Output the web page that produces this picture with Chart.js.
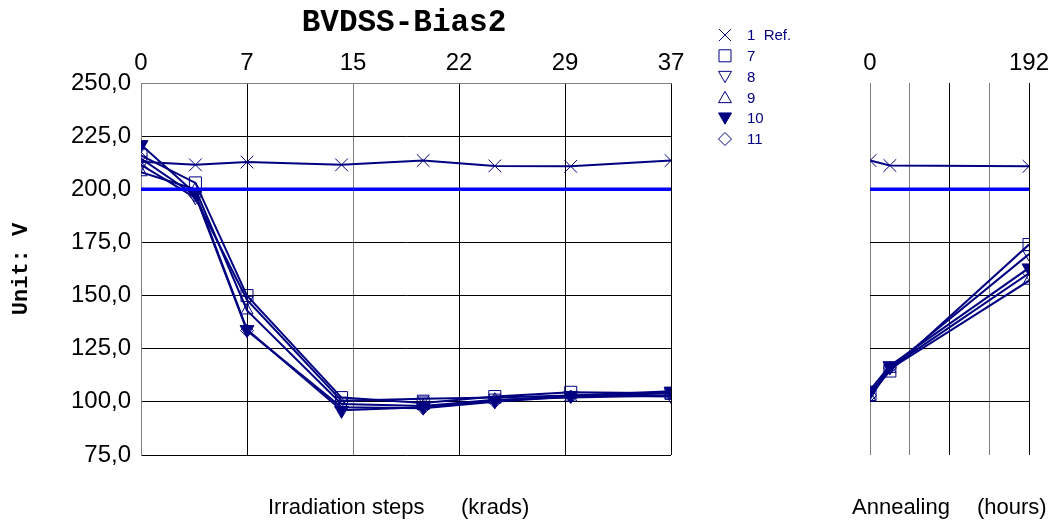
<!DOCTYPE html>
<html><head><meta charset="utf-8">
<script src="https://cdn.jsdelivr.net/npm/chart.js@4/dist/chart.umd.min.js"></script>
<style>
html,body{margin:0;padding:0;background:#fff;}
#wrap{position:relative;width:1061px;height:523px;overflow:hidden;}
canvas{position:absolute;left:0;top:0;}
</style></head><body>
<div id="wrap"><canvas id="c1" width="1061" height="523"></canvas><canvas id="c2" width="1061" height="523"></canvas></div>
<script>
// ---- data ----
const chartTitle = 'BVDSS-Bias2';
const yTitle = 'Unit: V';
const irrTitle = ['Irradiation steps', '(krads)'];
const annTitle = ['Annealing', '(hours)'];
const seriesNames = ['1  Ref.', '7', '8', '9', '10', '11'];

const irrSteps = [0, 3.8, 7.4, 14.0, 19.7, 24.7, 30.0, 37];
const irrTickLabels = ['0', '7', '15', '22', '29', '37'];
const irrMax = 37;
const annSteps = [0, 24, 192];
const annTickLabels = ['0', '', '', '', '192'];
const annMax = 192;

const irrRef = [213, 211.5, 212.8, 211.5, 213.5, 211, 210.8, 213.5];
const irr7   = [216, 203, 150, 102, 99.5, 102.5, 104.5, 104];
const irr8   = [211.5, 196, 148, 100.5, 101.5, 102, 103, 102.5];
const irr9   = [208, 200, 143, 99, 98, 101, 102, 103];
const irr10  = [221, 198, 134, 96, 97.5, 100.5, 103, 105];
const irr11  = [214.5, 197, 133.5, 97.5, 97, 100, 102.5, 104];

const annRef = [213.5, 211.2, 210.8];
const ann7   = [103.5, 114.5, 174];
const ann8   = [104, 116, 169.5];
const ann9   = [102, 115.5, 157];
const ann10  = [105.5, 117, 163];
const ann11  = [103, 116, 160.5];

const limitValue = 200;
const yMin = 75, yMax = 250, yStep = 25;

// ---- styles ----
const NAVY = '#000080';
const BLUE = '#0000ff';
const GRAY = '#808080';
const markers = [
  {style: 'crossRot', rot: 0, r: 9, fill: false},
  {style: 'rect', rot: 0, r: 8.5, fill: false},
  {style: 'triangle', rot: 180, r: 7, fill: false},
  {style: 'triangle', rot: 0, r: 7, fill: false},
  {style: 'triangle', rot: 180, r: 8, fill: true},
  {style: 'rectRot', rot: 0, r: 6.5, fill: false}
];
const SANS = '"Liberation Sans", Arial, sans-serif';
const MONO = '"Liberation Mono", "Courier New", monospace';

function makeDatasets(xs, seriesList, xMax) {
  const ds = seriesList.map((vals, i) => ({
    label: seriesNames[i],
    data: xs.map((x, j) => ({x: x, y: vals[j]})),
    showLine: true,
    borderColor: NAVY,
    borderWidth: 2,
    pointStyle: markers[i].style,
    rotation: markers[i].rot,
    pointRadius: markers[i].r,
    pointBorderWidth: 1,
    pointBorderColor: NAVY,
    pointBackgroundColor: markers[i].fill ? NAVY : 'rgba(0,0,0,0)',
    order: 1
  }));
  ds.push({
    label: 'limit',
    data: [{x: 0, y: limitValue}, {x: xMax, y: limitValue}],
    showLine: true,
    borderColor: BLUE,
    borderWidth: 3.5,
    pointRadius: 0,
    order: 0
  });
  return ds;
}

function drawMarker(ctx, m, x, y, r) {
  ctx.beginPath();
  if (m.style === 'crossRot') {
    const o = r * Math.SQRT1_2;
    ctx.moveTo(x - o, y - o); ctx.lineTo(x + o, y + o);
    ctx.moveTo(x + o, y - o); ctx.lineTo(x - o, y + o);
    ctx.stroke();
    return;
  }
  if (m.style === 'rect') {
    const s = r * Math.SQRT1_2;
    ctx.rect(x - s, y - s, 2 * s, 2 * s);
  } else if (m.style === 'rectRot') {
    ctx.moveTo(x - r, y); ctx.lineTo(x, y - r); ctx.lineTo(x + r, y); ctx.lineTo(x, y + r); ctx.closePath();
  } else if (m.style === 'triangle') {
    let a = m.rot * Math.PI / 180;
    ctx.moveTo(x + Math.sin(a) * r, y - Math.cos(a) * r);
    a += 2 * Math.PI / 3;
    ctx.lineTo(x + Math.sin(a) * r, y - Math.cos(a) * r);
    a += 2 * Math.PI / 3;
    ctx.lineTo(x + Math.sin(a) * r, y - Math.cos(a) * r);
    ctx.closePath();
  }
  if (m.fill) ctx.fill();
  ctx.stroke();
}

const textPlugin = {
  id: 'texts',
  afterDraw(chart) {
    const ctx = chart.ctx;
    ctx.save();
    ctx.fillStyle = '#000';
    ctx.textAlign = 'center';
    ctx.textBaseline = 'middle';
    ctx.font = 'bold 31px ' + MONO;
    ctx.fillText(chartTitle, 404, 23);
    ctx.save();
    ctx.translate(21, 269);
    ctx.rotate(-Math.PI / 2);
    ctx.font = 'bold 22px ' + MONO;
    ctx.fillText(yTitle, 0, 0);
    ctx.restore();
    ctx.font = '22px ' + SANS;
    ctx.textAlign = 'left';
    ctx.fillText(irrTitle[0], 268, 508);
    ctx.fillText(irrTitle[1], 461, 508);
    ctx.fillText(annTitle[0], 852, 508);
    ctx.fillText(annTitle[1], 977, 508);
    // legend
    ctx.font = '15px ' + SANS;
    ctx.strokeStyle = NAVY;
    ctx.fillStyle = NAVY;
    ctx.lineWidth = 1;
    seriesNames.forEach((n, i) => {
      const y = 35 + i * 20.8;
      const m = markers[i];
      const r = m.style === 'crossRot' ? 8.5 : (m.style === 'rect' ? 8.5 : (m.style === 'rectRot' ? 6.5 : 7.5));
      drawMarker(ctx, m, 725, m.style === 'triangle' ? y + (m.rot ? -1.5 : 1.5) : y, r);
      ctx.fillText(n, 747, y + 1);
    });
    ctx.restore();
  }
};

const commonOpts = {
  responsive: false,
  animation: false,
  events: [],
  devicePixelRatio: 1,
  plugins: {legend: {display: false}, tooltip: {enabled: false}, title: {display: false}}
};

// ---- left chart ----
new Chart(document.getElementById('c1'), {
  type: 'scatter',
  data: {datasets: makeDatasets(irrSteps, [irrRef, irr7, irr8, irr9, irr10, irr11], irrMax)},
  options: Object.assign({}, commonOpts, {
    layout: {padding: {left: 0, right: 1061 - 671, top: 0, bottom: 523 - 455}},
    scales: {
      x: {
        type: 'linear', position: 'top', min: 0, max: irrMax,
        afterBuildTicks: s => { s.ticks = irrTickLabels.map((_, i) => ({value: i * irrMax / (irrTickLabels.length - 1)})); },
        afterFit: s => { s.height = 83; },
        ticks: {callback: (v, i) => irrTickLabels[i], font: {family: SANS, size: 24}, color: '#000', padding: 5, maxRotation: 0, autoSkip: false},
        grid: {color: c => ['#808080', '#000', '#808080', '#000', '#000', '#000'][c.index] || '#000', drawTicks: false, lineWidth: 1},
        border: {color: GRAY, width: 1}
      },
      y: {
        min: yMin, max: yMax,
        afterBuildTicks: s => { const t = []; for (let v = yMin; v <= yMax; v += yStep) t.push({value: v}); s.ticks = t; },
        afterFit: s => { s.width = 141; },
        ticks: {callback: v => v.toFixed(1).replace('.', ','), font: {family: SANS, size: 24}, color: '#000', padding: 10},
        grid: {color: '#000', drawTicks: false, lineWidth: 1},
        border: {color: GRAY, width: 1}
      }
    }
  }),
  plugins: [textPlugin]
});

// ---- right chart ----
new Chart(document.getElementById('c2'), {
  type: 'scatter',
  data: {datasets: makeDatasets(annSteps, [annRef, ann7, ann8, ann9, ann10, ann11], annMax)},
  options: Object.assign({}, commonOpts, {
    layout: {padding: {left: 870, right: 1061 - 1029, top: 0, bottom: 523 - 455}},
    scales: {
      x: {
        type: 'linear', position: 'top', min: 0, max: annMax,
        afterBuildTicks: s => { s.ticks = annTickLabels.map((_, i) => ({value: i * annMax / (annTickLabels.length - 1)})); },
        afterFit: s => { s.height = 83; },
        ticks: {callback: (v, i) => annTickLabels[i], font: {family: SANS, size: 24}, color: '#000', padding: 5, maxRotation: 0, autoSkip: false},
        grid: {color: c => ['#808080', '#808080', '#000', '#808080', '#000'][c.index] || '#000', drawTicks: false, lineWidth: 1},
        border: {display: false}
      },
      y: {
        min: yMin, max: yMax,
        afterBuildTicks: s => { const t = []; for (let v = yMin; v <= yMax; v += yStep) t.push({value: v}); s.ticks = t; },
        afterFit: s => { s.width = 0; },
        ticks: {display: false},
        grid: {color: c => (c.tick && c.tick.value >= 100 && c.tick.value <= 175) ? '#000' : 'rgba(0,0,0,0)', drawTicks: false, lineWidth: 1},
        border: {display: false}
      }
    }
  })
});
</script>
</body></html>
